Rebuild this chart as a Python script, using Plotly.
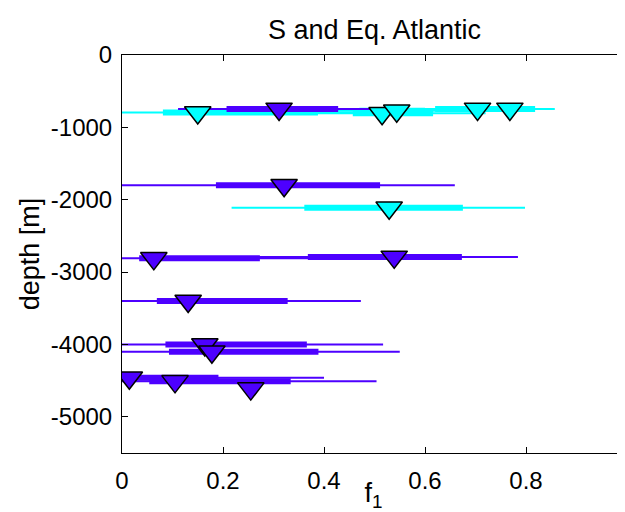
import plotly.graph_objects as go

# Blue-violet rows: depth, min, q1, median, q3, max
blue_depth = [-745, -1800, -2810, -2790, -3400, -4000, -4100, -4460, -4510]
blue_lo    = [0.111, 0.0, 0.0, 0.22, 0.0, 0.0, 0.0, 0.0, 0.0]
blue_q1    = [0.207, 0.186, 0.034, 0.368, 0.069, 0.086, 0.093, 0.0, 0.054]
blue_med   = [0.311, 0.321, 0.063, 0.539, 0.131, 0.164, 0.178, 0.0145, 0.105]
blue_q3    = [0.428, 0.511, 0.273, 0.673, 0.328, 0.366, 0.389, 0.191, 0.334]
blue_hi    = [0.517, 0.659, 0.45, 0.784, 0.473, 0.517, 0.550, 0.40, 0.504]
# extra blue median without visible range
blue_extra_depth = [-4610]
blue_extra_med = [0.255]

# Cyan rows
cyan_depth = [-795, -805, -770, -745, -745, -2110]
cyan_lo    = [0.0, 0.30, 0.35, 0.52, 0.55, 0.217]
cyan_q1    = [0.081, 0.457, 0.47, 0.62, 0.63, 0.361]
cyan_med   = [0.150, 0.515, 0.544, 0.704, 0.768, 0.529]
cyan_q3    = [0.388, 0.616, 0.60, 0.80, 0.818, 0.675]
cyan_hi    = [0.52, 0.72, 0.75, 0.84, 0.857, 0.798]

BLUE = "rgb(77,0,255)"
CYAN = "rgb(0,255,255)"


def segs(depths, a, b):
    xs, ys = [], []
    for d, x0, x1 in zip(depths, a, b):
        xs += [x0, x1, None]
        ys += [d, d, None]
    return xs, ys


fig = go.Figure()
for depths, lo, q1, q3, hi, col in [
    (cyan_depth, cyan_lo, cyan_q1, cyan_q3, cyan_hi, CYAN),
    (blue_depth, blue_lo, blue_q1, blue_q3, blue_hi, BLUE),
]:
    xs, ys = segs(depths, lo, hi)
    fig.add_trace(go.Scatter(x=xs, y=ys, mode="lines", line=dict(color=col, width=2),
                             showlegend=False, hoverinfo="skip"))
    xs, ys = segs(depths, q1, q3)
    fig.add_trace(go.Scatter(x=xs, y=ys, mode="lines", line=dict(color=col, width=6),
                             showlegend=False, hoverinfo="skip"))

for depths, med, col in [
    (cyan_depth, cyan_med, CYAN),
    (blue_depth + blue_extra_depth, blue_med + blue_extra_med, BLUE),
]:
    fig.add_trace(go.Scatter(x=med, y=depths, mode="markers",
                             marker=dict(symbol="triangle-down", size=23, color=col,
                                         line=dict(color="black", width=1.5)),
                             showlegend=False))

font = "Liberation Sans, Arial, Helvetica, sans-serif"
yt = [0, -1000, -2000, -3000, -4000, -5000]
# page body has an 8px default margin: figure is 617x504 placed at (8, 8)
W, H = 617, 504
fig.update_layout(
    width=W, height=H,
    margin=dict(l=114, r=0, t=47, b=59, autoexpand=False),
    paper_bgcolor="white", plot_bgcolor="white",
    font=dict(family=font, size=24, color="black"),
    title=dict(text="S and Eq. Atlantic", x=(114 + 619) / 2 / W, xanchor="center",
               y=1 - 22 / H, yanchor="middle", font=dict(size=27)),
    xaxis=dict(range=[0, 0.996], tickvals=[0, 0.2, 0.4, 0.6, 0.8],
               ticktext=["0", "0.2", "0.4", "0.6", "0.8"], automargin=False,
               showgrid=False, zeroline=False, showline=True, linecolor="black",
               linewidth=1, mirror="ticks", ticks="inside", ticklen=6, tickcolor="black",
               ticklabelstandoff=6,
               title=dict(text="f<sub>1</sub>", font=dict(size=27), standoff=0)),
    yaxis=dict(range=[-5500, 0], tickvals=yt, ticktext=[str(v) for v in yt],
               showgrid=False, zeroline=False, showline=True, linecolor="black",
               linewidth=1, ticks="inside", ticklen=6, tickcolor="black",
               ticklabelstandoff=4, automargin=False,
               title=dict(text="depth [m]", font=dict(size=27), standoff=3)),
)
fig.write_html("out.html")
